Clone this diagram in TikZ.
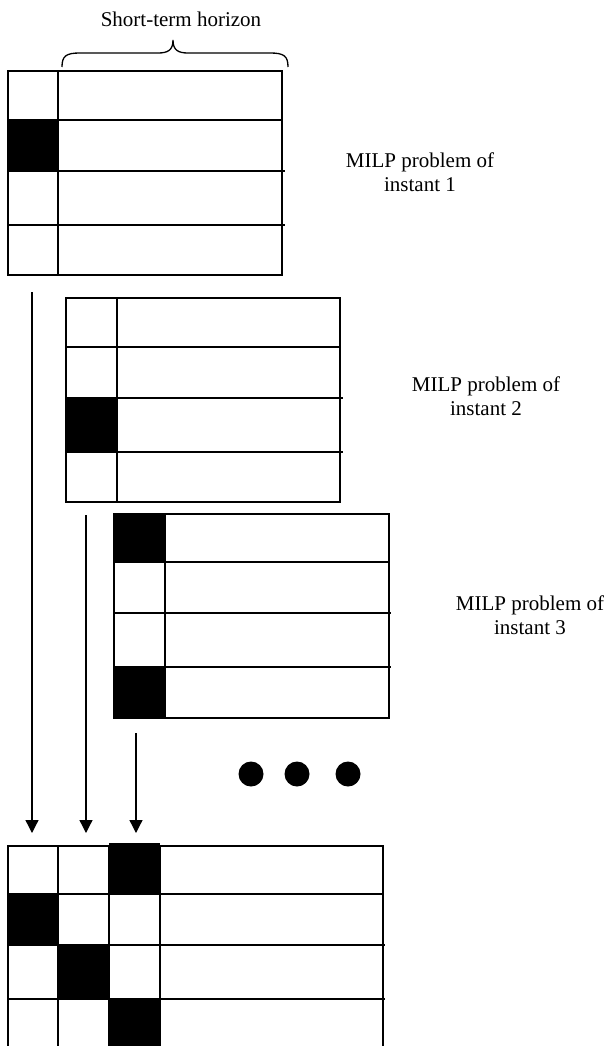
\documentclass[tikz,border=0pt]{standalone}
\usepackage{fontspec}
\setmainfont{Liberation Serif}
\usetikzlibrary{arrows.meta}
\begin{document}
\begin{tikzpicture}[x=1pt,y=-1pt,
  cellline/.style={line width=1.4pt},
  frame/.style={line width=1.8pt},
  lbl/.style={font=\fontsize{21}{24}\selectfont, align=center, anchor=north, inner sep=0pt},
  flow/.style={line width=1.3pt, -{Triangle[width=13pt,length=13pt]}},
  bracestyle/.style={line width=1.3pt},
  dotstyle/.style={fill=black}]
\useasboundingbox (0,0) rectangle (606,1046);
\clip (0,0) rectangle (606,1046);

% title and brace
\node[font=\fontsize{21}{24}\selectfont, anchor=base, inner sep=0pt] (title) at (181,27) {Short-term horizon};
\draw[bracestyle] (62,67) .. controls (62,56) and (66,53) .. (80,53) -- (158,53)
  .. controls (168,53) and (173,50) .. (173,40)
  .. controls (173,50) and (178,53) .. (188,53) -- (270,53)
  .. controls (284,53) and (288,56) .. (288,67);

% box 1
\fill (8,120) rectangle (58,171);
\draw[cellline] (58,71) -- (58,275);
\draw[cellline] (8,120) -- (282,120);
\draw[cellline] (8,171) -- (285,171);
\draw[cellline] (8,225) -- (285,225);
\draw[frame] (8,71) rectangle (282,275);
\node[lbl] (lab1) at (420,153) {MILP problem of\\instant 1};

% box 2
\fill (66,398) rectangle (117,452);
\draw[cellline] (117,298) -- (117,502);
\draw[cellline] (66,347) -- (340,347);
\draw[cellline] (66,398) -- (343,398);
\draw[cellline] (66,452) -- (343,452);
\draw[frame] (66,298) rectangle (340,502);
\node[lbl] (lab2) at (486,377) {MILP problem of\\instant 2};

% box 3
\fill (114,514) rectangle (165,562);
\fill (114,667) rectangle (165,718);
\draw[cellline] (165,514) -- (165,718);
\draw[cellline] (114,562) -- (389,562);
\draw[cellline] (114,613) -- (391,613);
\draw[cellline] (114,667) -- (391,667);
\draw[frame] (114,514) rectangle (389,718);
\node[lbl] (lab3) at (530,596) {MILP problem of\\instant 3};

% dots
\fill[dotstyle] (251,774) circle (12.5);
\fill[dotstyle] (297,774) circle (12.5);
\fill[dotstyle] (348,774) circle (12.5);

% bottom box
\fill (109,843) rectangle (160,894);
\fill (8,894) rectangle (58,945);
\fill (58,945) rectangle (109,999);
\fill (109,999) rectangle (160,1052);
\draw[cellline] (58,846) -- (58,1052);
\draw[cellline] (109,846) -- (109,1052);
\draw[cellline] (160,846) -- (160,1052);
\draw[cellline] (8,894) -- (383,894);
\draw[cellline] (8,945) -- (385,945);
\draw[cellline] (8,999) -- (385,999);
\draw[frame] (8,846) rectangle (383,1052);

% arrows
\coordinate (a1s) at (32,292);
\coordinate (a1e) at (32,833);
\coordinate (a2s) at (86,515);
\coordinate (a2e) at (86,833);
\coordinate (a3s) at (136,733);
\coordinate (a3e) at (136,833);
\draw[flow] (a1s) -- (a1e);
\draw[flow] (a2s) -- (a2e);
\draw[flow] (a3s) -- (a3e);
\end{tikzpicture}
\end{document}
